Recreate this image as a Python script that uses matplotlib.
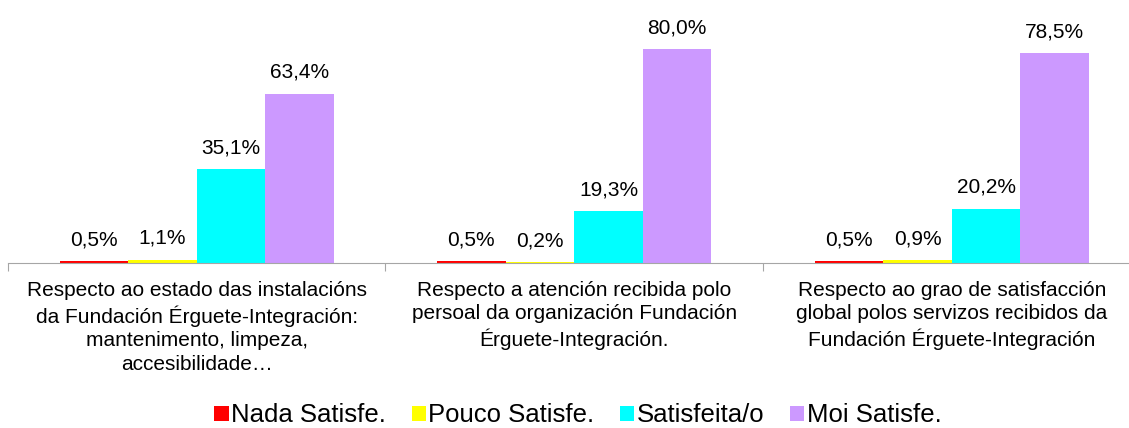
import numpy as np
import matplotlib.pyplot as plt
from matplotlib.patches import Patch

plt.rcParams['font.family'] = ['Liberation Sans', 'DejaVu Sans']

categories = [
    "Respecto ao estado das instalacións\nda Fundación Érguete-Integración:\nmantenimento, limpeza,\naccesibilidade…",
    "Respecto a atención recibida polo\npersoal da organización Fundación\nÉrguete-Integración.",
    "Respecto ao grao de satisfacción\nglobal polos servizos recibidos da\nFundación Érguete-Integración",
]
series_names = ["Nada Satisfe.", "Pouco Satisfe.", "Satisfeita/o", "Moi Satisfe."]
nada = [0.5, 0.5, 0.5]
pouco = [1.1, 0.2, 0.9]
satisfeita = [35.1, 19.3, 20.2]
moi = [63.4, 80.0, 78.5]
colors = ["#FF0000", "#FFFF00", "#00FFFF", "#CC99FF"]

W, H = 1129, 428
fig = plt.figure(figsize=(W / 100, H / 100), dpi=100)
# one category = 377.5 px, baseline at y=262.7 px
ax = fig.add_axes([8 / W, (H - 262.7) / H, 3 * 377.5 / W, 240 / H])

x = np.arange(len(categories))
w = 0.1817
series = [nada, pouco, satisfeita, moi]
for i, (vals, col) in enumerate(zip(series, colors)):
    pos = x + (i - 1.5) * w
    ax.bar(pos, vals, width=w, color=col, edgecolor='none')
    for p, v in zip(pos, vals):
        ax.annotate(f"{v:.1f}%".replace('.', ','), xy=(p, v), xytext=(0, 11.5),
                    textcoords='offset points', ha='center', va='baseline',
                    fontsize=15, annotation_clip=False)

ax.set_xlim(-0.5, 2.5)
ax.set_ylim(0, 90)
ax.set_yticks([])
for s in ['top', 'right', 'left']:
    ax.spines[s].set_visible(False)
ax.spines['bottom'].set_color('#A6A6A6')
ax.set_xticks([-0.5, 0.5, 1.5, 2.5])
ax.set_xticklabels([])
ax.tick_params(axis='x', length=6, color='#A6A6A6')

for xi, lab in zip(x, categories):
    ax.annotate(lab, xy=(xi, 0), xytext=(0, -13), textcoords='offset points',
                ha='center', va='top', fontsize=15, linespacing=1.3,
                annotation_clip=False)

handles = [Patch(facecolor=c, edgecolor='none') for c in colors]
fig.legend(handles, series_names, loc='lower center', bbox_to_anchor=(578 / W, 0.5 / H),
           ncol=4, frameon=False, fontsize=18.5, handlelength=0.55, handleheight=0.55,
           handletextpad=0.1, columnspacing=1.0, borderpad=0, borderaxespad=0)

fig.savefig('out.png', dpi=100)
